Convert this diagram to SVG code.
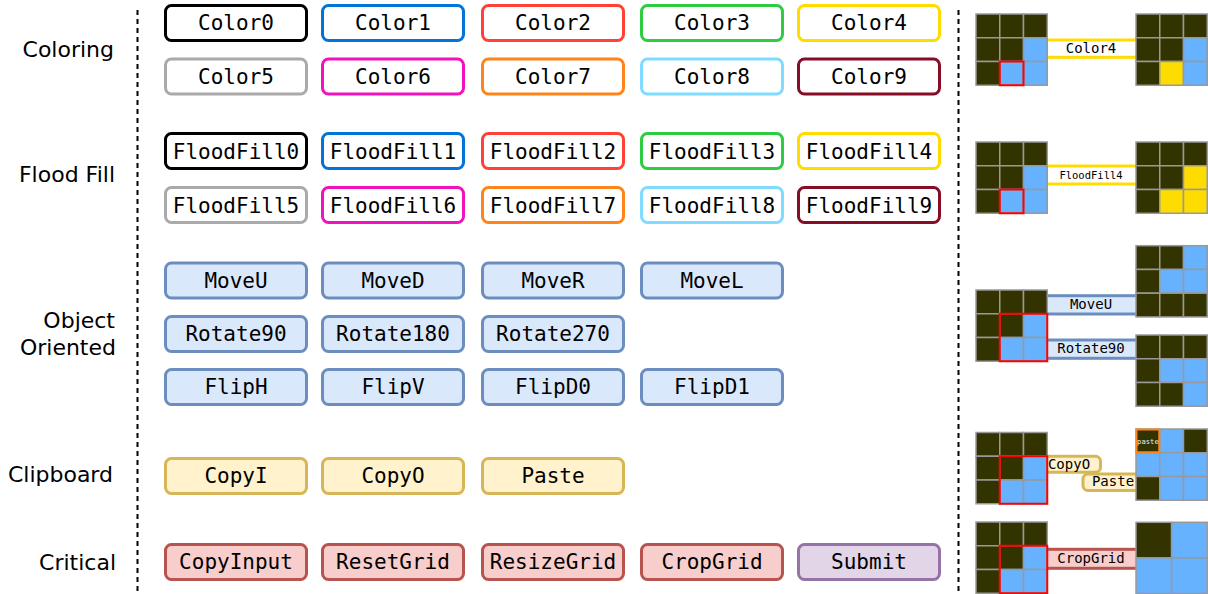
<svg xmlns="http://www.w3.org/2000/svg" width="1208" height="594" viewBox="0 0 1208 594">
<style>
.lbl{font-family:"DejaVu Sans",Verdana,sans-serif;font-size:22px;fill:#000;text-anchor:end}
.btn rect{stroke-width:3}
.btn text,.bt{font-family:"DejaVu Sans Mono",monospace;font-size:21px;fill:#000;text-anchor:middle}
.bt{font-size:14px}
.w rect{fill:#fff}
.oo rect{fill:#dae8fc;stroke:#6c8ebf}
.cb rect{fill:#fff2cc;stroke:#d6b656}
.cr rect{fill:#f8cecc;stroke:#b85450}
.sb rect{fill:#e1d5e7;stroke:#9673a6}
.sep{stroke:#000;stroke-width:2;stroke-dasharray:5 4;fill:none}
.D{fill:#333300;stroke:#999;stroke-width:1.5}
.B{fill:#66b2ff;stroke:#999;stroke-width:1.5}
.Y{fill:#ffdc00;stroke:#999;stroke-width:1.5}
.hl{fill:none;stroke:#ff0000;stroke-width:2}
</style>
<defs>
<g id="g3">
<rect class="D" x="0" y="0" width="23.75" height="23.75"/><rect class="D" x="23.75" y="0" width="23.75" height="23.75"/><rect class="D" x="47.5" y="0" width="23.75" height="23.75"/>
<rect class="D" x="0" y="23.75" width="23.75" height="23.75"/><rect class="D" x="23.75" y="23.75" width="23.75" height="23.75"/><rect class="B" x="47.5" y="23.75" width="23.75" height="23.75"/>
<rect class="D" x="0" y="47.5" width="23.75" height="23.75"/><rect class="B" x="23.75" y="47.5" width="23.75" height="23.75"/><rect class="B" x="47.5" y="47.5" width="23.75" height="23.75"/>
</g>
</defs>

<g id="separators">
<line class="sep" x1="137.5" y1="10" x2="137.5" y2="594"/>
<line class="sep" x1="958.5" y1="10" x2="958.5" y2="594"/>
</g>

<g id="labels">
<text class="lbl" x="114" y="57">Coloring</text>
<text class="lbl" x="115" y="182">Flood Fill</text>
<text class="lbl" x="115" y="328">Object</text>
<text class="lbl" x="116" y="355">Oriented</text>
<text class="lbl" x="113" y="482">Clipboard</text>
<text class="lbl" x="116" y="570">Critical</text>
</g>

<!-- Coloring -->
<g id="Color0" class="btn w"><rect x="165.5" y="5.5" width="141" height="35" rx="6" stroke="#000000"/><text x="236" y="30">Color0</text></g>
<g id="Color1" class="btn w"><rect x="322.5" y="5.5" width="141" height="35" rx="6" stroke="#0074d9"/><text x="393" y="30">Color1</text></g>
<g id="Color2" class="btn w"><rect x="482.5" y="5.5" width="141" height="35" rx="6" stroke="#ff4136"/><text x="553" y="30">Color2</text></g>
<g id="Color3" class="btn w"><rect x="641.5" y="5.5" width="141" height="35" rx="6" stroke="#2ecc40"/><text x="712" y="30">Color3</text></g>
<g id="Color4" class="btn w"><rect x="798.5" y="5.5" width="141" height="35" rx="6" stroke="#ffdc00"/><text x="869" y="30">Color4</text></g>
<g id="Color5" class="btn w"><rect x="165.5" y="59" width="141" height="35" rx="6" stroke="#aaaaaa"/><text x="236" y="83.5">Color5</text></g>
<g id="Color6" class="btn w"><rect x="322.5" y="59" width="141" height="35" rx="6" stroke="#f012be"/><text x="393" y="83.5">Color6</text></g>
<g id="Color7" class="btn w"><rect x="482.5" y="59" width="141" height="35" rx="6" stroke="#ff851b"/><text x="553" y="83.5">Color7</text></g>
<g id="Color8" class="btn w"><rect x="641.5" y="59" width="141" height="35" rx="6" stroke="#7fdbff"/><text x="712" y="83.5">Color8</text></g>
<g id="Color9" class="btn w"><rect x="798.5" y="59" width="141" height="35" rx="6" stroke="#870c25"/><text x="869" y="83.5">Color9</text></g>

<!-- Flood Fill -->
<g id="FloodFill0" class="btn w"><rect x="165.5" y="133.5" width="141" height="35" rx="6" stroke="#000000"/><text x="236" y="158.5">FloodFill0</text></g>
<g id="FloodFill1" class="btn w"><rect x="322.5" y="133.5" width="141" height="35" rx="6" stroke="#0074d9"/><text x="393" y="158.5">FloodFill1</text></g>
<g id="FloodFill2" class="btn w"><rect x="482.5" y="133.5" width="141" height="35" rx="6" stroke="#ff4136"/><text x="553" y="158.5">FloodFill2</text></g>
<g id="FloodFill3" class="btn w"><rect x="641.5" y="133.5" width="141" height="35" rx="6" stroke="#2ecc40"/><text x="712" y="158.5">FloodFill3</text></g>
<g id="FloodFill4" class="btn w"><rect x="798.5" y="133.5" width="141" height="35" rx="6" stroke="#ffdc00"/><text x="869" y="158.5">FloodFill4</text></g>
<g id="FloodFill5" class="btn w"><rect x="165.5" y="187.5" width="141" height="35" rx="6" stroke="#aaaaaa"/><text x="236" y="212.5">FloodFill5</text></g>
<g id="FloodFill6" class="btn w"><rect x="322.5" y="187.5" width="141" height="35" rx="6" stroke="#f012be"/><text x="393" y="212.5">FloodFill6</text></g>
<g id="FloodFill7" class="btn w"><rect x="482.5" y="187.5" width="141" height="35" rx="6" stroke="#ff851b"/><text x="553" y="212.5">FloodFill7</text></g>
<g id="FloodFill8" class="btn w"><rect x="641.5" y="187.5" width="141" height="35" rx="6" stroke="#7fdbff"/><text x="712" y="212.5">FloodFill8</text></g>
<g id="FloodFill9" class="btn w"><rect x="798.5" y="187.5" width="141" height="35" rx="6" stroke="#870c25"/><text x="869" y="212.5">FloodFill9</text></g>

<!-- Object Oriented -->
<g id="MoveU" class="btn oo"><rect x="165.5" y="263" width="141" height="35" rx="6"/><text x="236" y="287.5">MoveU</text></g>
<g id="MoveD" class="btn oo"><rect x="322.5" y="263" width="141" height="35" rx="6"/><text x="393" y="287.5">MoveD</text></g>
<g id="MoveR" class="btn oo"><rect x="482.5" y="263" width="141" height="35" rx="6"/><text x="553" y="287.5">MoveR</text></g>
<g id="MoveL" class="btn oo"><rect x="641.5" y="263" width="141" height="35" rx="6"/><text x="712" y="287.5">MoveL</text></g>
<g id="Rotate90" class="btn oo"><rect x="165.5" y="316.5" width="141" height="35" rx="6"/><text x="236" y="341">Rotate90</text></g>
<g id="Rotate180" class="btn oo"><rect x="322.5" y="316.5" width="141" height="35" rx="6"/><text x="393" y="341">Rotate180</text></g>
<g id="Rotate270" class="btn oo"><rect x="482.5" y="316.5" width="141" height="35" rx="6"/><text x="553" y="341">Rotate270</text></g>
<g id="FlipH" class="btn oo"><rect x="165.5" y="369.5" width="141" height="35" rx="6"/><text x="236" y="394">FlipH</text></g>
<g id="FlipV" class="btn oo"><rect x="322.5" y="369.5" width="141" height="35" rx="6"/><text x="393" y="394">FlipV</text></g>
<g id="FlipD0" class="btn oo"><rect x="482.5" y="369.5" width="141" height="35" rx="6"/><text x="553" y="394">FlipD0</text></g>
<g id="FlipD1" class="btn oo"><rect x="641.5" y="369.5" width="141" height="35" rx="6"/><text x="712" y="394">FlipD1</text></g>

<!-- Clipboard -->
<g id="CopyI" class="btn cb"><rect x="165.5" y="458.5" width="141" height="35" rx="6"/><text x="236" y="483">CopyI</text></g>
<g id="CopyO" class="btn cb"><rect x="322.5" y="458.5" width="141" height="35" rx="6"/><text x="393" y="483">CopyO</text></g>
<g id="Paste" class="btn cb"><rect x="482.5" y="458.5" width="141" height="35" rx="6"/><text x="553" y="483">Paste</text></g>

<!-- Critical -->
<g id="CopyInput" class="btn cr"><rect x="165.5" y="544.5" width="141" height="35" rx="6"/><text x="236" y="569">CopyInput</text></g>
<g id="ResetGrid" class="btn cr"><rect x="322.5" y="544.5" width="141" height="35" rx="6"/><text x="393" y="569">ResetGrid</text></g>
<g id="ResizeGrid" class="btn cr"><rect x="482.5" y="544.5" width="141" height="35" rx="6"/><text x="553" y="569">ResizeGrid</text></g>
<g id="CropGrid" class="btn cr"><rect x="641.5" y="544.5" width="141" height="35" rx="6"/><text x="712" y="569">CropGrid</text></g>
<g id="Submit" class="btn sb"><rect x="798.5" y="544.5" width="141" height="35" rx="6"/><text x="869" y="569">Submit</text></g>

<!-- Examples: connectors (bands) -->
<g id="connectors">
<g class="btn w"><rect x="1030" y="40" width="120" height="17.3" stroke="#ffdc00"/></g>
<text class="bt" x="1091" y="53.3">Color4</text>
<g class="btn w"><rect x="1030" y="166" width="120" height="18" stroke="#ffdc00"/></g>
<text class="bt" x="1091" y="179.3" style="font-size:10.5px">FloodFill4</text>
<g class="btn oo"><rect x="1030" y="295.7" width="120" height="18.3"/></g>
<text class="bt" x="1091" y="308.6">MoveU</text>
<g class="btn oo"><rect x="1030" y="340" width="120" height="18.3"/></g>
<text class="bt" x="1091" y="352.8">Rotate90</text>
<g class="btn cb"><rect x="1030" y="456.3" width="70.5" height="15.9" rx="5"/></g>
<text class="bt" x="1069" y="469.3">CopyO</text>
<g class="btn cb"><rect x="1083" y="474" width="70" height="16.5" rx="5"/></g>
<text class="bt" x="1113" y="486.3">Paste</text>
<g class="btn cr"><rect x="1030" y="549.3" width="120" height="19"/></g>
<text class="bt" x="1091" y="563">CropGrid</text>
</g>

<!-- Example grids -->
<g id="ex-coloring">
<use href="#g3" x="976" y="14"/>
<rect class="hl" x="999.75" y="61.5" width="23.75" height="23.75"/>
<g transform="translate(1136,14)">
<rect class="D" x="0" y="0" width="23.75" height="23.75"/><rect class="D" x="23.75" y="0" width="23.75" height="23.75"/><rect class="D" x="47.5" y="0" width="23.75" height="23.75"/>
<rect class="D" x="0" y="23.75" width="23.75" height="23.75"/><rect class="D" x="23.75" y="23.75" width="23.75" height="23.75"/><rect class="B" x="47.5" y="23.75" width="23.75" height="23.75"/>
<rect class="D" x="0" y="47.5" width="23.75" height="23.75"/><rect class="Y" x="23.75" y="47.5" width="23.75" height="23.75"/><rect class="B" x="47.5" y="47.5" width="23.75" height="23.75"/>
</g>
</g>

<g id="ex-floodfill">
<use href="#g3" x="976" y="142"/>
<rect class="hl" x="999.75" y="189.5" width="23.75" height="23.75"/>
<g transform="translate(1136,142)">
<rect class="D" x="0" y="0" width="23.75" height="23.75"/><rect class="D" x="23.75" y="0" width="23.75" height="23.75"/><rect class="D" x="47.5" y="0" width="23.75" height="23.75"/>
<rect class="D" x="0" y="23.75" width="23.75" height="23.75"/><rect class="D" x="23.75" y="23.75" width="23.75" height="23.75"/><rect class="Y" x="47.5" y="23.75" width="23.75" height="23.75"/>
<rect class="D" x="0" y="47.5" width="23.75" height="23.75"/><rect class="Y" x="23.75" y="47.5" width="23.75" height="23.75"/><rect class="Y" x="47.5" y="47.5" width="23.75" height="23.75"/>
</g>
</g>

<g id="ex-object">
<use href="#g3" x="976" y="290"/>
<rect class="hl" x="999.75" y="313.75" width="47.5" height="47.5"/>
<g transform="translate(1136,245.7)">
<rect class="D" x="0" y="0" width="23.75" height="23.75"/><rect class="D" x="23.75" y="0" width="23.75" height="23.75"/><rect class="B" x="47.5" y="0" width="23.75" height="23.75"/>
<rect class="D" x="0" y="23.75" width="23.75" height="23.75"/><rect class="B" x="23.75" y="23.75" width="23.75" height="23.75"/><rect class="B" x="47.5" y="23.75" width="23.75" height="23.75"/>
<rect class="D" x="0" y="47.5" width="23.75" height="23.75"/><rect class="D" x="23.75" y="47.5" width="23.75" height="23.75"/><rect class="D" x="47.5" y="47.5" width="23.75" height="23.75"/>
</g>
<g transform="translate(1136,335)">
<rect class="D" x="0" y="0" width="23.75" height="23.75"/><rect class="D" x="23.75" y="0" width="23.75" height="23.75"/><rect class="D" x="47.5" y="0" width="23.75" height="23.75"/>
<rect class="D" x="0" y="23.75" width="23.75" height="23.75"/><rect class="B" x="23.75" y="23.75" width="23.75" height="23.75"/><rect class="B" x="47.5" y="23.75" width="23.75" height="23.75"/>
<rect class="D" x="0" y="47.5" width="23.75" height="23.75"/><rect class="D" x="23.75" y="47.5" width="23.75" height="23.75"/><rect class="B" x="47.5" y="47.5" width="23.75" height="23.75"/>
</g>
</g>

<g id="ex-clipboard">
<use href="#g3" x="976" y="432.5"/>
<rect class="hl" x="999.75" y="456.25" width="47.5" height="47.5"/>
<g transform="translate(1136,429)">
<rect class="D" x="0" y="0" width="23.75" height="23.75"/><rect class="B" x="23.75" y="0" width="23.75" height="23.75"/><rect class="D" x="47.5" y="0" width="23.75" height="23.75"/>
<rect class="B" x="0" y="23.75" width="23.75" height="23.75"/><rect class="B" x="23.75" y="23.75" width="23.75" height="23.75"/><rect class="B" x="47.5" y="23.75" width="23.75" height="23.75"/>
<rect class="D" x="0" y="47.5" width="23.75" height="23.75"/><rect class="B" x="23.75" y="47.5" width="23.75" height="23.75"/><rect class="B" x="47.5" y="47.5" width="23.75" height="23.75"/>
<rect x="0.5" y="0.5" width="22.75" height="22.75" fill="none" stroke="#ff851b" stroke-width="2"/>
<text x="11.9" y="14.5" style="font-family:'DejaVu Sans Mono',monospace;font-size:7.2px;fill:#eeeeee;text-anchor:middle">paste</text>
</g>
</g>

<g id="ex-critical">
<use href="#g3" x="976" y="522"/>
<rect class="hl" x="999.75" y="545.75" width="47.5" height="47.5"/>
<g transform="translate(1136,522.3)">
<rect class="D" x="0" y="0" width="35.6" height="35.6"/><rect class="B" x="35.6" y="0" width="35.6" height="35.6"/>
<rect class="B" x="0" y="35.6" width="35.6" height="35.6"/><rect class="B" x="35.6" y="35.6" width="35.6" height="35.6"/>
</g>
</g>
</svg>
